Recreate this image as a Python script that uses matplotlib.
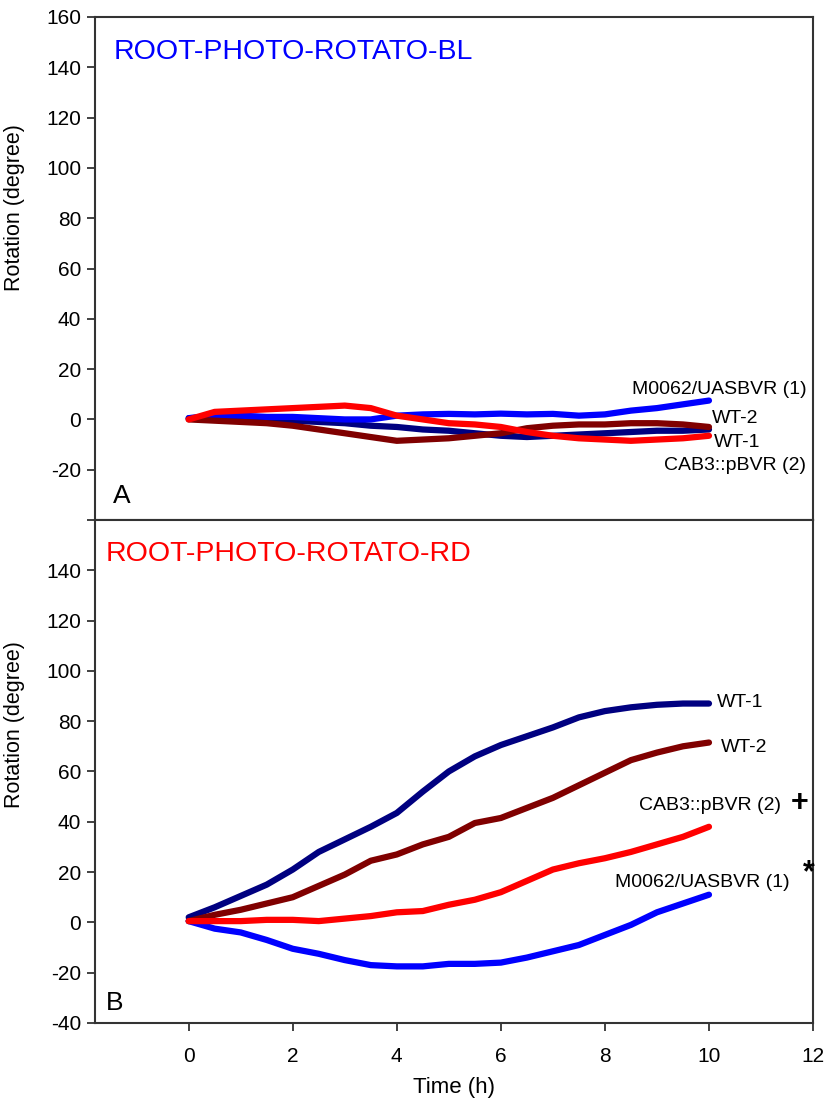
import numpy as np
import matplotlib.pyplot as plt

plt.rcParams['font.family'] = ['Liberation Sans', 'DejaVu Sans']
plt.rcParams['axes.unicode_minus'] = False

# time axis (h)
t = np.arange(0, 10.01, 0.5)

# panel A (blue light)
a_m0062 = [0.5, 1.5, 1.5, 1, 1, 0.5, 0, 0, 1.5, 2, 2.2, 2, 2.3, 2, 2.2, 1.5, 2, 3.5, 4.5, 6, 7.5]
a_wt1 = [0.5, 1, 0.5, 0, -0.5, -1, -1.5, -2.5, -3, -4, -4.5, -5.5, -6.5, -7, -6.5, -6, -5.5, -5, -4.5, -4.5, -4]
a_wt2 = [0, -0.5, -1, -1.5, -2.5, -4, -5.5, -7, -8.5, -8, -7.5, -6.5, -5.5, -3.5, -2.5, -2, -2, -1.5, -1.5, -2, -3]
a_cab3 = [0, 3, 3.5, 4, 4.5, 5, 5.5, 4.5, 1.5, 0, -1.5, -2, -3, -5, -6.5, -7.5, -8, -8.5, -8, -7.5, -6.5]

# panel B (red light)
b_wt1 = [2, 6, 10.5, 15, 21, 28, 33, 38, 43.5, 52, 60, 66, 70.5, 74, 77.5, 81.5, 84, 85.5, 86.5, 87, 87]
b_wt2 = [0.5, 3, 5, 7.5, 10, 14.5, 19, 24.5, 27, 31, 34, 39.5, 41.5, 45.5, 49.5, 54.5, 59.5, 64.5, 67.5, 70, 71.5]
b_cab3 = [0.5, 0.5, 0.5, 1, 1, 0.5, 1.5, 2.5, 4, 4.5, 7, 9, 12, 16.5, 21, 23.5, 25.5, 28, 31, 34, 38]
b_m0062 = [0.5, -2.5, -4, -7, -10.5, -12.5, -15, -17, -17.5, -17.5, -16.5, -16.5, -16, -14, -11.5, -9, -5, -1, 4, 7.5, 11]

NAVY = '#000080'
BLUE = '#0000FF'
DRED = '#800000'
RED = '#FF0000'
SPINE = '#333333'

fig = plt.figure(figsize=(8.25, 11.1), dpi=100)
axA = fig.add_axes([0.1152, 0.5315, 0.8703, 0.4532])
axB = fig.add_axes([0.1152, 0.0784, 0.8703, 0.4532])

for ax in (axA, axB):
    ax.set_xlim(-1.8, 12)
    ax.set_ylim(-40, 160)
    for s in ax.spines.values():
        s.set_color(SPINE)
        s.set_linewidth(1.5)
    ax.tick_params(axis='y', direction='out', length=6, width=1.3, color=SPINE,
                   labelsize=15, pad=4)
    ax.tick_params(axis='x', direction='out', length=6, width=1.3, color=SPINE,
                   labelsize=15, pad=11)
    ax.set_ylabel('Rotation (degree)', fontsize=15.5)

lw = 4.5
for ax, series in ((axA, (a_wt1, a_m0062, a_wt2, a_cab3)),
                   (axB, (b_wt1, b_m0062, b_wt2, b_cab3))):
    for y, c in zip(series, (NAVY, BLUE, DRED, RED)):
        ax.plot(t, y, color=c, lw=lw, solid_capstyle='round', solid_joinstyle='round')

# ticks
axA.set_yticks(range(-40, 161, 20))
axA.set_yticklabels([''] + [str(v) for v in range(-20, 161, 20)])
axA.set_xticks([])
axB.set_yticks(range(-40, 141, 20))
axB.set_xticks(range(0, 13, 2))
axB.set_xlabel('Time (h)', fontsize=16, labelpad=8)

axA.yaxis.set_label_coords(-0.097, 0.622)
axB.yaxis.set_label_coords(-0.097, 0.594)

# titles and panel letters
axA.text(-1.45, 146, 'ROOT-PHOTO-ROTATO-BL', color=BLUE, fontsize=20.5, va='center')
axB.text(-1.6, 146.5, 'ROOT-PHOTO-ROTATO-RD', color=RED, fontsize=20.5, va='center')
axA.text(-1.45, -30.5, 'A', fontsize=19, va='center')
axB.text(-1.6, -32, 'B', fontsize=19, va='center')

# line labels, panel A
lab = 14
axA.text(11.88, 12, 'M0062/UASBVR (1)', fontsize=lab, ha='right', va='center')
axA.text(10.06, 0.4, 'WT-2', fontsize=lab, va='center')
axA.text(10.1, -9.1, 'WT-1', fontsize=lab, va='center')
axA.text(11.87, -18.3, 'CAB3::pBVR (2)', fontsize=lab, ha='right', va='center')

# line labels, panel B
axB.text(10.15, 87.6, 'WT-1', fontsize=lab, va='center')
axB.text(10.23, 69.7, 'WT-2', fontsize=lab, va='center')
axB.text(8.65, 46.3, 'CAB3::pBVR (2)', fontsize=lab, va='center')
axB.text(11.75, 47.5, '+', fontsize=22, fontweight='bold', ha='center', va='center')
axB.text(8.2, 15.7, 'M0062/UASBVR (1)', fontsize=lab, va='center')
axB.text(11.92, 19.5, '*', fontsize=22, fontweight='bold', ha='center', va='center')

fig.savefig('out.png', dpi=100)
